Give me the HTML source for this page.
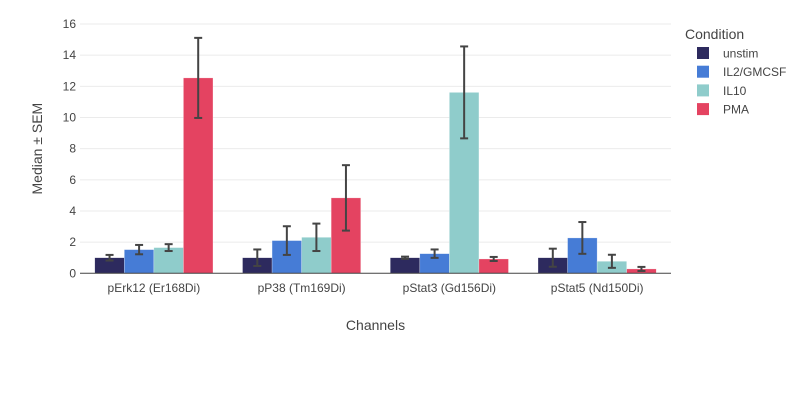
<!DOCTYPE html>
<html><head><meta charset="utf-8"><style>
body{margin:0;background:#fff;}
svg{display:block;font-family:"Liberation Sans",sans-serif;}
</style></head><body>
<svg id="chart" width="806" height="400"></svg>
<script>
const categories=["pErk12 (Er168Di)","pP38 (Tm169Di)","pStat3 (Gd156Di)","pStat5 (Nd150Di)"];
const seriesNames=["unstim","IL2/GMCSF","IL10","PMA"];
const seriesColors=["#2d2a5e","#467cd6","#8fcccb","#e44361"];
const unstimVals=[1.0,1.0,1.0,1.0];
const il2Vals=[1.52,2.1,1.26,2.27];
const il10Vals=[1.65,2.31,11.61,0.77];
const pmaVals=[12.54,4.84,0.92,0.28];
const unstimErr=[0.18,0.53,0.07,0.58];
const il2Err=[0.3,0.92,0.27,1.02];
const il10Err=[0.22,0.88,2.95,0.42];
const pmaErr=[2.57,2.1,0.13,0.13];
const yTicks=[0,2,4,6,8,10,12,14,16];
const values=[unstimVals,il2Vals,il10Vals,pmaVals];
const errs=[unstimErr,il2Err,il10Err,pmaErr];
const NS="http://www.w3.org/2000/svg";
const svg=document.getElementById("chart");
const L=80,R=671,T=24,B=273.3,yMax=16;
const y=v=>B-(v/yMax)*(B-T);
const band=(R-L)/categories.length;
const barW=band*0.8/seriesNames.length;
const x=(ci,si)=>L+ci*band+band*0.1+si*barW;
function mk(tag,attrs,parent){const e=document.createElementNS(NS,tag);for(const k in attrs)e.setAttribute(k,attrs[k]);(parent||svg).appendChild(e);return e;}
yTicks.forEach(t=>{
  if(t>0){const g=mk("line",{x1:L,x2:R,y1:y(t),y2:y(t),stroke:"#ebebeb","stroke-width":1});
  
  }
  const tx=mk("text",{x:L-4,y:y(t)+4,"text-anchor":"end","font-size":12,fill:"#444"});
  tx.textContent=t;
  
  
});
values.forEach((vals,si)=>{
  vals.forEach((v,ci)=>{
    const r=mk("rect",{x:x(ci,si),y:y(v),width:barW,height:B-y(v),fill:seriesColors[si],stroke:"#fff","stroke-opacity":0.5,"stroke-width":0.5});
    
    
    const cx=x(ci,si)+barW/2,e=errs[si][ci];
    const g=mk("g",{stroke:"#444","stroke-width":2});
    
    
    mk("line",{x1:cx,x2:cx,y1:y(v+e),y2:y(Math.max(0,v-e))},g);
    mk("line",{x1:cx-4,x2:cx+4,y1:y(v+e),y2:y(v+e)},g);
    mk("line",{x1:cx-4,x2:cx+4,y1:y(Math.max(0,v-e)),y2:y(Math.max(0,v-e))},g);
  });
});
const ax=mk("line",{x1:L,x2:R,y1:B,y2:B,stroke:"#444","stroke-width":1});


categories.forEach((c,ci)=>{
  const t=mk("text",{x:L+ci*band+band/2,y:292,"text-anchor":"middle","font-size":12,fill:"#444"});
  t.textContent=c;
  
  
});
const xt=mk("text",{x:(L+R)/2,y:330,"text-anchor":"middle","font-size":14,fill:"#444"});
xt.textContent="Channels";


const yt=mk("text",{x:0,y:0,"text-anchor":"middle","font-size":14,fill:"#444",transform:"translate(42,"+((T+B)/2)+") rotate(-90)"});
yt.textContent="Median ± SEM";


const lt=mk("text",{x:685,y:39,"font-size":14,fill:"#444"});
lt.textContent="Condition";


seriesNames.forEach((n,si)=>{
  const g=mk("g",{});
  
  
  const yy=53+si*18.7;
  mk("rect",{x:697,y:yy-6,width:12,height:12,fill:seriesColors[si]},g);
  const t=mk("text",{x:723,y:yy+4.5,"font-size":12,fill:"#444"},g);
  t.textContent=n;
});
</script>
</body></html>
